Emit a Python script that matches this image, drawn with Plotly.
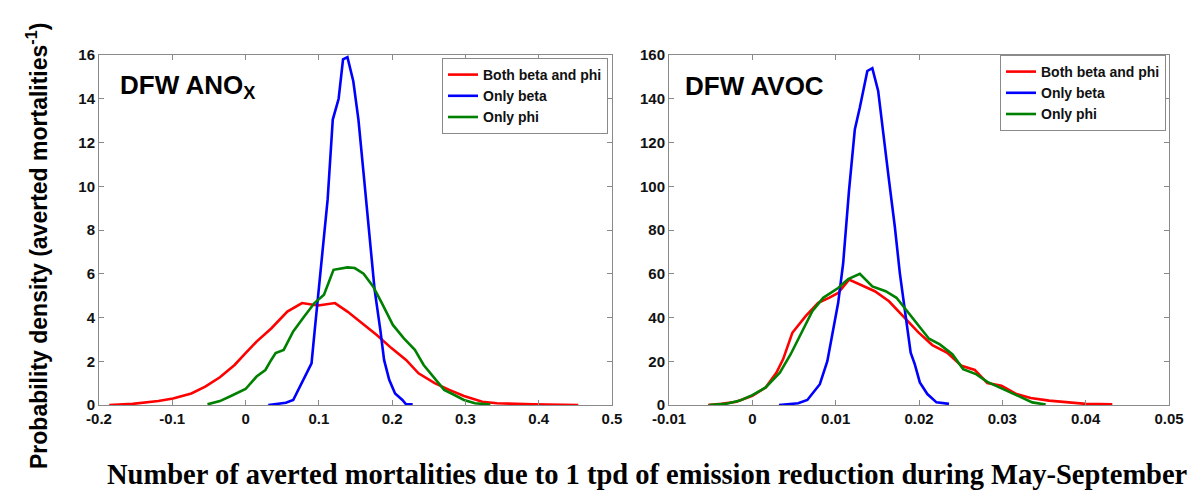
import plotly.graph_objects as go

# ---------------- data: DFW ANOx (left panel) ----------------
nox_both_x = [-0.186, -0.154, -0.119, -0.099, -0.074, -0.055, -0.035, -0.015, 0.0, 0.015, 0.035, 0.057, 0.077,
              0.099, 0.122, 0.139, 0.159, 0.179, 0.199, 0.219, 0.236, 0.258, 0.278, 0.298, 0.323, 0.343, 0.392, 0.454]
nox_both_y = [0.0, 0.05, 0.18, 0.3, 0.53, 0.84, 1.27, 1.83, 2.37, 2.9, 3.5, 4.27, 4.66,
              4.55, 4.66, 4.27, 3.74, 3.2, 2.6, 2.06, 1.45, 1.0, 0.69, 0.41, 0.15, 0.08, 0.03, 0.0]

nox_beta_x = [0.031, 0.055, 0.065, 0.077, 0.09, 0.094, 0.104, 0.112, 0.119, 0.127, 0.133, 0.139, 0.147, 0.154,
              0.161, 0.169, 0.176, 0.184, 0.189, 0.196, 0.204, 0.214, 0.219, 0.228]
nox_beta_y = [0.0, 0.1, 0.23, 1.0, 1.9, 3.3, 6.6, 9.4, 13.05, 14.0, 15.8, 15.9, 14.8, 13.05,
              10.6, 7.9, 5.3, 3.4, 2.06, 1.15, 0.53, 0.23, 0.03, 0.03]

nox_phi_x = [-0.052, -0.035, -0.02, 0.0, 0.015, 0.027, 0.035, 0.041, 0.052, 0.065, 0.08, 0.094, 0.107, 0.12,
             0.139, 0.149, 0.161, 0.174, 0.186, 0.201, 0.216, 0.231, 0.243, 0.256, 0.271, 0.283, 0.298, 0.313, 0.334]
nox_phi_y = [0.03, 0.18, 0.41, 0.73, 1.3, 1.6, 2.06, 2.37, 2.52, 3.36, 4.05, 4.66, 5.04, 6.18,
             6.29, 6.26, 6.0, 5.42, 4.66, 3.66, 3.05, 2.52, 1.83, 1.3, 0.69, 0.49, 0.23, 0.08, 0.02]

# ---------------- data: DFW AVOC (right panel) ----------------
voc_both_x = [-0.0053, -0.0037, -0.0019, 0.0, 0.0016, 0.0029, 0.0037, 0.0048, 0.0064, 0.0079, 0.0092, 0.0103,
              0.0116, 0.0129, 0.0147, 0.0164, 0.0181, 0.0199, 0.0216, 0.0234, 0.0251, 0.0267, 0.0282, 0.0299,
              0.0317, 0.0334, 0.0356, 0.0378, 0.04, 0.0432]
voc_both_y = [0.0, 0.5, 1.5, 4.2, 8.0, 14.8, 21.0, 33.0, 40.6, 46.7, 49.0, 51.2,
              57.3, 55.0, 52.0, 47.4, 40.6, 33.3, 27.4, 23.9, 17.9, 16.0, 10.0, 8.8,
              5.0, 3.2, 2.0, 1.2, 0.5, 0.3]

voc_beta_x = [0.0032, 0.0055, 0.0066, 0.0072, 0.0081, 0.009, 0.0096, 0.0103, 0.0109, 0.0116, 0.0123, 0.0129,
              0.0138, 0.0144, 0.0151, 0.0157, 0.0164, 0.0171, 0.0177, 0.0184, 0.019, 0.0195, 0.0201, 0.021,
              0.0221, 0.0236]
voc_beta_y = [0.0, 0.8, 2.3, 5.0, 9.5, 20.0, 33.0, 46.7, 64.8, 98.0, 126.0, 136.0,
              152.7, 154.0, 143.6, 124.0, 102.7, 81.5, 60.3, 40.6, 23.9, 18.6, 10.3, 5.0,
              1.2, 0.5]

voc_phi_x = [-0.0052, -0.0032, -0.0015, 0.0, 0.0016, 0.0033, 0.0046, 0.0059, 0.0072, 0.0085, 0.0103, 0.0115,
             0.0129, 0.0144, 0.016, 0.0173, 0.0186, 0.0199, 0.0212, 0.0225, 0.024, 0.0253, 0.0269, 0.0282,
             0.0299, 0.0317, 0.0336, 0.0352]
voc_phi_y = [0.0, 0.5, 2.0, 4.5, 8.0, 14.8, 23.2, 33.0, 42.9, 49.0, 53.5, 57.6,
             60.0, 54.2, 52.0, 49.0, 42.9, 36.8, 30.3, 27.7, 23.2, 16.4, 14.0, 10.6,
             7.6, 4.2, 1.2, 0.2]

series_names = ["Both beta and phi", "Only beta", "Only phi"]
series_colors = ["#ff0000", "#0000ff", "#008000"]

nox_xticks = [-0.2, -0.1, 0, 0.1, 0.2, 0.3, 0.4, 0.5]
nox_xlabels = ["-0.2", "-0.1", "0", "0.1", "0.2", "0.3", "0.4", "0.5"]
nox_yticks = [0, 2, 4, 6, 8, 10, 12, 14, 16]
voc_xticks = [-0.01, 0, 0.01, 0.02, 0.03, 0.04, 0.05]
voc_xlabels = ["-0.01", "0", "0.01", "0.02", "0.03", "0.04", "0.05"]
voc_yticks = [0, 20, 40, 60, 80, 100, 120, 140, 160]

panel_titles = ["DFW ANO<sub>X</sub>", "DFW AVOC"]
y_title = "Probability density (averted mortalities<sup>-1</sup>)"
x_title = "Number of averted mortalities due to 1 tpd of emission reduction during May-September"

# ---------------- figure ----------------
W, H = 1190, 491


def px(x):
    return x / W


def py(y):
    return 1 - y / H


fig = go.Figure()

left = [(nox_both_x, nox_both_y), (nox_beta_x, nox_beta_y), (nox_phi_x, nox_phi_y)]
right = [(voc_both_x, voc_both_y), (voc_beta_x, voc_beta_y), (voc_phi_x, voc_phi_y)]

for (xs, ys), name, col in zip(left, series_names, series_colors):
    fig.add_trace(go.Scatter(x=xs, y=ys, mode="lines", name=name, line=dict(color=col, width=2.6),
                             xaxis="x", yaxis="y", legend="legend"))
for (xs, ys), name, col in zip(right, series_names, series_colors):
    fig.add_trace(go.Scatter(x=xs, y=ys, mode="lines", name=name, line=dict(color=col, width=2.6),
                             xaxis="x2", yaxis="y2", legend="legend2"))

tickfont = dict(family="Liberation Sans, Arial", size=15, color="#111111", weight="bold")
axis_common = dict(showgrid=False, zeroline=False, showline=True, linecolor="#8a8a8a", linewidth=1,
                   mirror="ticks", ticks="inside", ticklen=5, tickcolor="#8a8a8a", tickfont=tickfont,
                   automargin=False)

ydom = [py(405), py(55)]
legend_font = dict(family="Liberation Sans, Arial", size=14, color="#111111", weight="bold")

fig.update_layout(
    template="none",
    width=W, height=H,
    margin=dict(l=0, r=0, t=0, b=0, autoexpand=False),
    paper_bgcolor="white", plot_bgcolor="white",
    xaxis=dict(domain=[px(99), px(612)], range=[-0.2, 0.5], tickvals=nox_xticks, ticktext=nox_xlabels,
               anchor="y", **axis_common),
    yaxis=dict(domain=ydom, range=[0, 16], tickvals=nox_yticks, anchor="x", **axis_common),
    xaxis2=dict(domain=[px(669), px(1169)], range=[-0.01, 0.05], tickvals=voc_xticks, ticktext=voc_xlabels,
                anchor="y2", **axis_common),
    yaxis2=dict(domain=ydom, range=[0, 160], tickvals=voc_yticks, anchor="x2", **axis_common),
    legend=dict(x=px(608), xanchor="right", y=py(58), yanchor="top", xref="paper", yref="paper",
                bgcolor="white", bordercolor="#8a8a8a", borderwidth=1, font=legend_font,
                itemwidth=30, tracegroupgap=0),
    legend2=dict(x=px(1166), xanchor="right", y=py(55), yanchor="top", xref="paper", yref="paper",
                 bgcolor="white", bordercolor="#8a8a8a", borderwidth=1, font=legend_font,
                 itemwidth=30, tracegroupgap=0),
    showlegend=True,
)

title_font = dict(family="Liberation Sans, Arial", size=26, color="black", weight="bold")
fig.add_annotation(text=panel_titles[0], x=px(118), y=py(86), xref="paper", yref="paper",
                   xanchor="left", yanchor="middle", showarrow=False, font=title_font)
fig.add_annotation(text=panel_titles[1], x=px(683), y=py(86), xref="paper", yref="paper",
                   xanchor="left", yanchor="middle", showarrow=False, font=title_font)
fig.add_annotation(text=y_title, x=px(37), y=py(246), xref="paper", yref="paper", textangle=-90,
                   xanchor="center", yanchor="middle", showarrow=False,
                   font=dict(family="Liberation Sans, Arial", size=23, color="black", weight="bold"))
fig.add_annotation(text=x_title, x=px(647), y=py(474), xref="paper", yref="paper",
                   xanchor="center", yanchor="middle", showarrow=False,
                   font=dict(family="Liberation Serif, serif", size=28.5, color="black", weight="bold"))

# remove the default page margin so the figure sits at the window's top-left corner
fig.write_html("out.html", config={"displayModeBar": False},
               post_script="document.body.style.margin='0';document.body.style.overflow='hidden';")
